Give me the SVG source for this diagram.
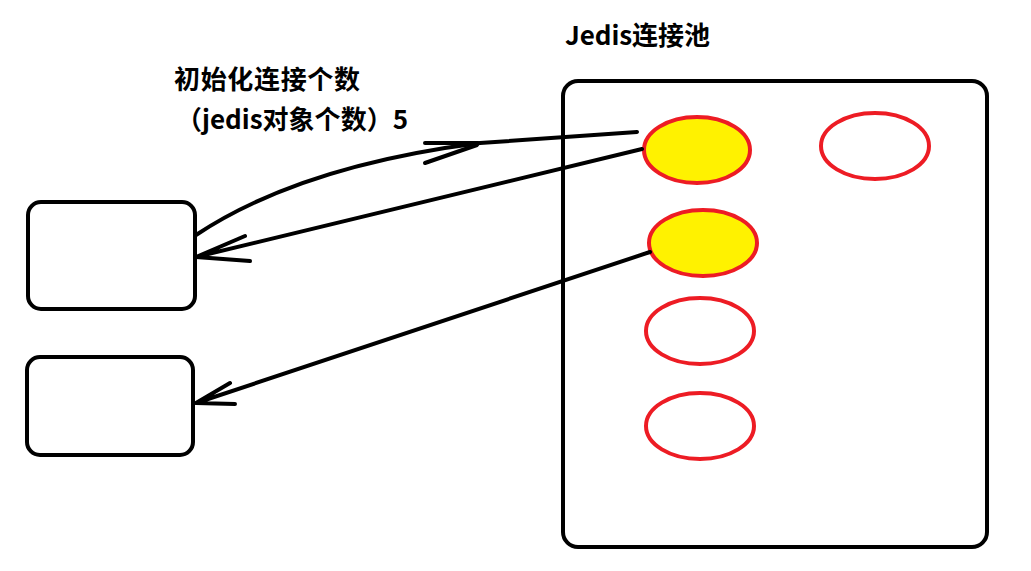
<svg xmlns="http://www.w3.org/2000/svg" width="1031" height="571" viewBox="0 0 1031 571">
<style>
.box{fill:#fff;stroke:#000;stroke-width:4}
.slot{stroke:#ed1c24;stroke-width:4}
.used{fill:#fff200}
.free{fill:#fff}
.ln{fill:none;stroke:#000;stroke-width:4;stroke-linecap:round;stroke-linejoin:round}
.t{font-family:"Noto Sans CJK SC","Noto Sans",sans-serif;font-weight:bold;font-size:26px;fill:#000}
</style>
<rect width="1031" height="571" fill="#fff"/>
<g id="pool">
<rect class="box" x="563" y="81" width="424" height="466" rx="15"/>
<text class="t" x="565" y="45" textLength="145" lengthAdjust="spacing">Jedis连接池</text>
</g>
<g id="jedis1"><ellipse class="slot used" cx="697" cy="150" rx="53" ry="33"/></g>
<g id="jedis2"><ellipse class="slot used" cx="703" cy="243" rx="54" ry="33"/></g>
<g id="jedis3"><ellipse class="slot free" cx="875" cy="146" rx="54" ry="33"/></g>
<g id="jedis4"><ellipse class="slot free" cx="700" cy="331" rx="54" ry="33"/></g>
<g id="jedis5"><ellipse class="slot free" cx="700" cy="426" rx="54" ry="33"/></g>
<g id="client1"><rect class="box" x="28" y="202" width="167" height="107" rx="13"/></g>
<g id="client2"><rect class="box" x="27" y="357" width="166" height="98" rx="13"/></g>
<g id="label">
<text class="t" x="174" y="89" textLength="186" lengthAdjust="spacing">初始化连接个数</text>
<text class="t" x="176" y="129" textLength="232" lengthAdjust="spacing">（jedis对象个数）5</text>
</g>
<g id="connectors">
<path class="ln" d="M196,235 Q300,166 480,143 L637,132"/>
<path class="ln" d="M425,143 L478,143 M425,163 L477,145"/>
<path class="ln" d="M642,149 L196,257 M245,236 L196,257 L250,261"/>
<path class="ln" d="M650,252 L196,403 M230,383 L196,403 L235,404"/>
</g>
</svg>
